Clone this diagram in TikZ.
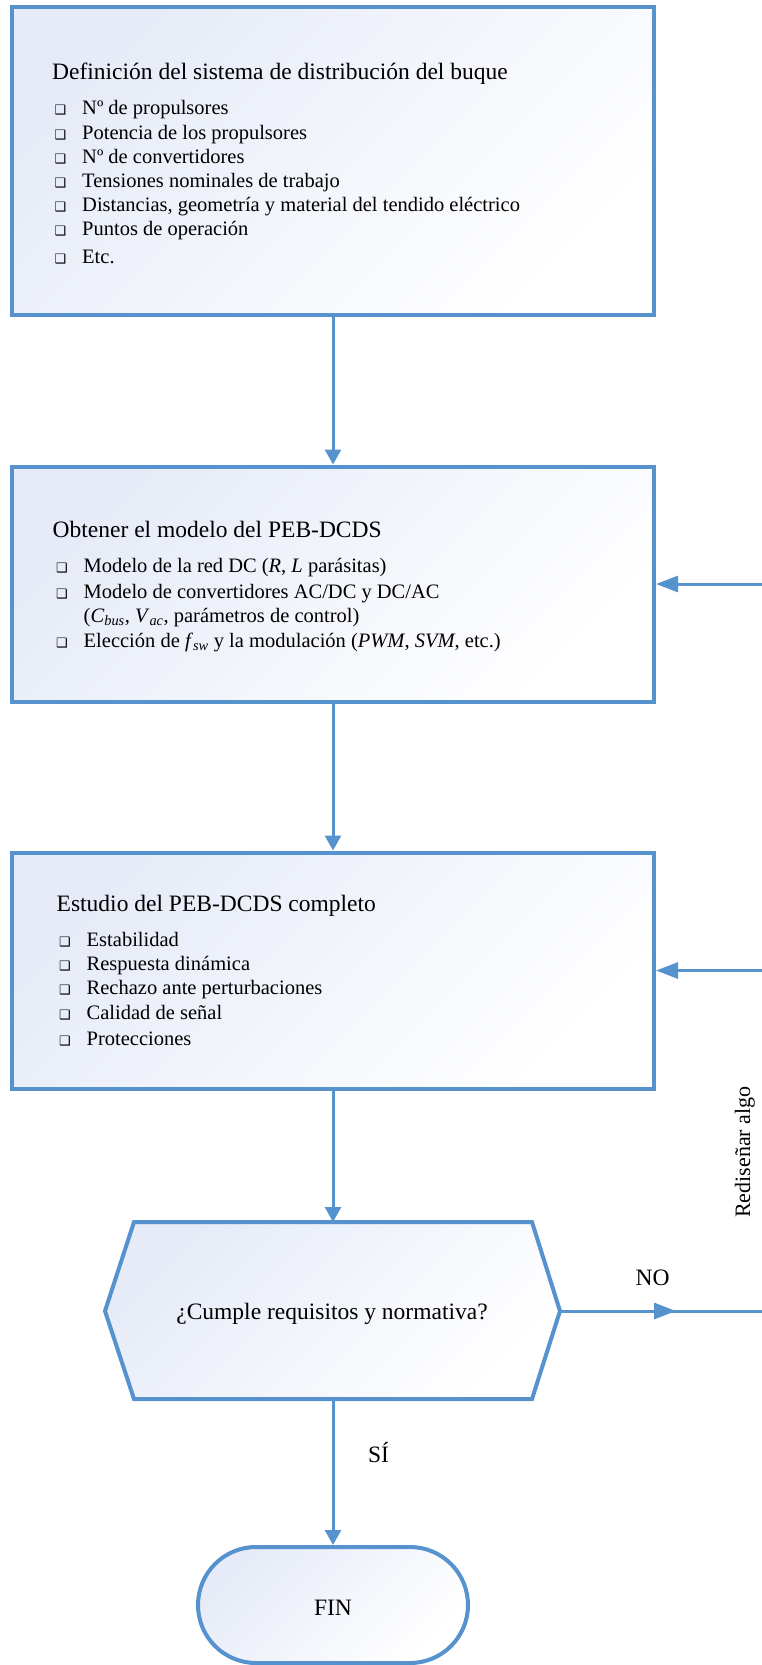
\documentclass[tikz,border=0pt]{standalone}
\usepackage{fontspec}
\setmainfont{Liberation Serif}
\newfontfamily\symfont{DejaVu Sans}
\usetikzlibrary{arrows.meta,shapes.misc}
\definecolor{flowblue}{RGB}{86,146,206}
\definecolor{shadeblue}{RGB}{230,235,247}
\newcommand{\bq}{\llap{{\symfont\fontsize{13}{13}\selectfont ❑}\hspace{16pt}}}
\tikzset{
  boxshade/.style={draw=flowblue, line width=4pt, top color=shadeblue, bottom color=white, shading angle=45},
  stepbox/.style={boxshade, rectangle, inner sep=0pt},
  conn/.style={draw=flowblue, line width=3pt},
  varrow/.style={conn, -{Triangle[length=15pt,width=16pt]}},
  harrow/.style={conn, -{Triangle[length=22pt,width=16pt]}},
  titletxt/.style={inner sep=0pt, anchor=base west, font=\fontsize{23.5}{28}\selectfont},
  itemtxt/.style={inner sep=0pt, anchor=base west, font=\fontsize{20.5}{24}\selectfont},
  lbl/.style={inner sep=0pt, anchor=base, font=\fontsize{23.5}{28}\selectfont},
}
\begin{document}
\begin{tikzpicture}[x=1pt,y=-1pt]
\useasboundingbox (0,0) rectangle (762,1665);

% boxes
\node[stepbox, minimum width=642pt, minimum height=307.5pt] (b1) at (333,161) {};
\node[stepbox, minimum width=642pt, minimum height=235pt] (b2) at (333,584) {};
\node[stepbox, minimum width=642pt, minimum height=236pt] (b3) at (333,970.5) {};

% decision hexagon
\coordinate (decT) at (333,1222);
\coordinate (decB) at (333,1399);
\coordinate (decR) at (560,1311);
\coordinate (decL) at (105,1311);
\path[boxshade, line join=miter] (134,1222) -- (532,1222) -- (decR) -- (532,1399) -- (134,1399) -- (decL) -- cycle;
\node[lbl] (dec) at (332,1319) {¿Cumple requisitos y normativa?};

% FIN terminal
\node[boxshade, rounded rectangle, minimum width=270pt, minimum height=116pt, inner sep=0pt] (fin) at (333,1605) {};
\node[lbl] (fintxt) at (333,1615) {FIN};

% box 1 text
\node[titletxt] (t1) at (52,79) {Definición del sistema de distribución del buque};
\node[itemtxt] (b1i1) at (82,114) {\bq Nº de propulsores};
\node[itemtxt] (b1i2) at (82,139.3) {\bq Potencia de los propulsores};
\node[itemtxt] (b1i3) at (82,163.3) {\bq Nº de convertidores};
\node[itemtxt] (b1i4) at (82,187.3) {\bq Tensiones nominales de trabajo};
\node[itemtxt] (b1i5) at (82,211) {\bq Distancias, geometría y material del tendido eléctrico};
\node[itemtxt] (b1i6) at (82,235.3) {\bq Puntos de operación};
\node[itemtxt] (b1i7) at (82,263.3) {\bq Etc.};

% box 2 text
\node[titletxt] (t2) at (52.5,537) {Obtener el modelo del PEB-DCDS};
\node[itemtxt] (b2i1) at (83.5,572) {\bq Modelo de la red DC (\textit{R}, \textit{L} parásitas)};
\node[itemtxt] (b2i2) at (83.5,598) {\bq Modelo de convertidores AC/DC y DC/AC};
\node[itemtxt] (b2i3) at (83.5,622) {(\textit{C}\textsubscript{\textit{bus}}, \textit{V}\textsubscript{\textit{ac}}, parámetros de control)};
\node[itemtxt] (b2i4) at (83.5,647) {\bq Elección de \textit{f}\textsubscript{\textit{sw}} y la modulación (\textit{PWM}, \textit{SVM}, etc.)};

% box 3 text
\node[titletxt] (t3) at (56.5,911) {Estudio del PEB-DCDS completo};
\node[itemtxt] (b3i1) at (86.5,946) {\bq Estabilidad};
\node[itemtxt] (b3i2) at (86.5,970) {\bq Respuesta dinámica};
\node[itemtxt] (b3i3) at (86.5,994) {\bq Rechazo ante perturbaciones};
\node[itemtxt] (b3i4) at (86.5,1019) {\bq Calidad de señal};
\node[itemtxt] (b3i5) at (86.5,1045) {\bq Protecciones};

% main connectors
\draw[varrow] (b1.south) -- (b2.north);
\draw[varrow] (b2.south) -- (b3.north);
\draw[varrow] (b3.south) -- (decT);
\draw[varrow] (decB) -- (fin.north);

% NO branch and feedback
\coordinate (edgeNO) at (762,1311);
\coordinate (noTip) at (676,1311);
\coordinate (edge2) at (762,584);
\coordinate (edge3) at (762,970.5);
\draw[conn] (decR) -- (edgeNO);
\draw[harrow] (decR) -- (noTip);
\draw[harrow] (edge2) -- (b2.east);
\draw[harrow] (edge3) -- (b3.east);

% labels
\node[lbl] (no) at (652.5,1285) {NO};
\node[lbl] (si) at (378.5,1462) {SÍ};
\node[inner sep=0pt, anchor=base, rotate=90, font=\fontsize{22}{26}\selectfont] (redis) at (750,1152) {Rediseñar algo};
\end{tikzpicture}
\end{document}
